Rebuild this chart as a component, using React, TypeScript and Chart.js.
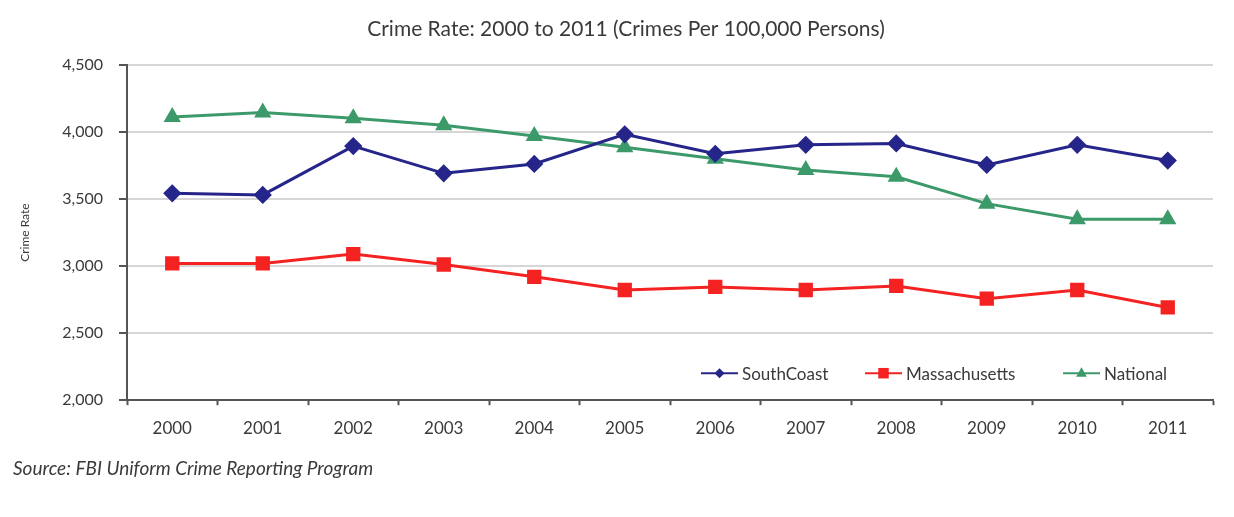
import React, { useEffect, useRef } from "react";
import { Chart, registerables } from "chart.js";

Chart.register(...registerables);

const years = ["2000", "2001", "2002", "2003", "2004", "2005", "2006", "2007", "2008", "2009", "2010", "2011"];
const southCoast = [3543, 3531, 3895, 3692, 3762, 3983, 3838, 3905, 3915, 3755, 3905, 3787];
const massachusetts = [3020, 3020, 3090, 3012, 2920, 2822, 2845, 2822, 2852, 2757, 2822, 2692];
const national = [4112, 4145, 4103, 4050, 3970, 3886, 3800, 3717, 3667, 3466, 3350, 3350];

const titleText = "Crime Rate: 2000 to 2011 (Crimes Per 100,000 Persons)";
const sourceText = "Source: FBI Uniform Crime Reporting Program";
const yTitle = "Crime Rate";

const FONT = "Lato, 'Open Sans', sans-serif";
const TEXT = "#3a3a3a";

function drawMarker(ctx: CanvasRenderingContext2D, style: string, x: number, y: number, r: number, color: string) {
  ctx.save();
  ctx.fillStyle = color;
  ctx.beginPath();
  if (style === "rectRot") {
    ctx.moveTo(x, y - r);
    ctx.lineTo(x + r, y);
    ctx.lineTo(x, y + r);
    ctx.lineTo(x - r, y);
  } else if (style === "rect") {
    ctx.rect(x - r * 0.75, y - r * 0.75, r * 1.5, r * 1.5);
  } else {
    ctx.moveTo(x, y - r);
    ctx.lineTo(x + r * 0.9, y + r * 0.6);
    ctx.lineTo(x - r * 0.9, y + r * 0.6);
  }
  ctx.closePath();
  ctx.fill();
  ctx.restore();
}

const innerLegend = {
  id: "innerLegend",
  afterDatasetsDraw(chart: any) {
    const { ctx, chartArea } = chart;
    const y = chartArea.bottom - 27;
    const offsets = [-512, -348, -150];
    ctx.save();
    ctx.font = `17px ${FONT}`;
    ctx.textBaseline = "middle";
    ctx.textAlign = "left";
    chart.data.datasets.forEach((ds: any, i: number) => {
      const x0 = chartArea.right + offsets[i];
      ctx.strokeStyle = ds.borderColor;
      ctx.lineWidth = 2;
      ctx.beginPath();
      ctx.moveTo(x0, y);
      ctx.lineTo(x0 + 37, y);
      ctx.stroke();
      drawMarker(ctx, ds.pointStyle, x0 + 18.5, y, ds.legendR, ds.borderColor);
      ctx.fillStyle = TEXT;
      ctx.fillText(ds.label, x0 + 41, y + 1);
    });
    ctx.restore();
  },
};

// Title drawn slightly right of the canvas centre, as in the reference
const shiftedTitle = {
  id: "shiftedTitle",
  afterDraw(chart: any) {
    const { ctx, chartArea } = chart;
    ctx.save();
    ctx.font = `21px ${FONT}`;
    ctx.fillStyle = TEXT;
    ctx.textAlign = "center";
    ctx.textBaseline = "middle";
    ctx.fillText(titleText, (chartArea.left + chartArea.right) / 2 - 44, chartArea.top - 36);
    ctx.restore();
  },
};

export default function App() {
  const ref = useRef<HTMLCanvasElement | null>(null);
  useEffect(() => {
    if (!ref.current) return;
    const chart = new Chart(ref.current, {
      type: "line",
      data: {
        labels: years,
        datasets: [
          {
            label: "SouthCoast",
            data: southCoast,
            borderColor: "#25258a",
            backgroundColor: "#25258a",
            pointStyle: "rectRot",
            pointRadius: 7,
            borderWidth: 3,
            legendR: 5,
          } as any,
          {
            label: "Massachusetts",
            data: massachusetts,
            borderColor: "#f52222",
            backgroundColor: "#f52222",
            pointStyle: "rect",
            pointRadius: 8,
            borderWidth: 3,
            legendR: 7,
          } as any,
          {
            label: "National",
            data: national,
            borderColor: "#3c9a6a",
            backgroundColor: "#3c9a6a",
            pointStyle: "triangle",
            pointRadius: 7,
            borderWidth: 3,
            legendR: 6,
          } as any,
        ],
      },
      options: {
        animation: false,
        responsive: false,
        layout: { padding: { left: 13, right: 21, top: 65, bottom: 37 } },
        plugins: {
          legend: { display: false },
          tooltip: { enabled: false },
          title: { display: false },
          subtitle: {
            display: true,
            text: sourceText,
            position: "bottom",
            align: "start",
            color: TEXT,
            font: { family: FONT, size: 19, style: "italic", weight: "normal" },
            padding: { top: 7, bottom: 0 },
          },
        },
        scales: {
          x: {
            offset: true,
            grid: {
              offset: true,
              drawOnChartArea: false,
              drawTicks: true,
              tickLength: 5,
              tickColor: "#555",
              tickWidth: 2,
            },
            border: { color: "#555", width: 2 },
            ticks: {
              color: TEXT,
              font: { family: FONT, size: 17 },
              padding: 13,
              maxRotation: 0,
            },
            afterFit: (s: any) => {
              s.height = 50;
            },
          },
          y: {
            min: 2000,
            max: 4500,
            ticks: {
              stepSize: 500,
              color: TEXT,
              font: { family: FONT, size: 16 },
              padding: 16,
            },
            grid: {
              color: "#d6d6d6",
              lineWidth: 2,
              tickLength: 8,
              tickColor: "#555",
              drawTicks: true,
            },
            border: { color: "#555", width: 2 },
            title: {
              display: true,
              text: yTitle,
              color: TEXT,
              font: { family: FONT, size: 12 },
              padding: { top: 5, bottom: 0 },
            },
            afterFit: (s: any) => {
              s.width = 114;
            },
          },
        },
      },
      plugins: [innerLegend, shiftedTitle],
    });
    return () => chart.destroy();
  }, []);
  return (
    <div style={{ position: "fixed", left: 0, top: 0, width: 1234, height: 517, background: "#fff" }}>
      <canvas ref={ref} width={1234} height={517} style={{ width: 1234, height: 517 }} />
    </div>
  );
}
